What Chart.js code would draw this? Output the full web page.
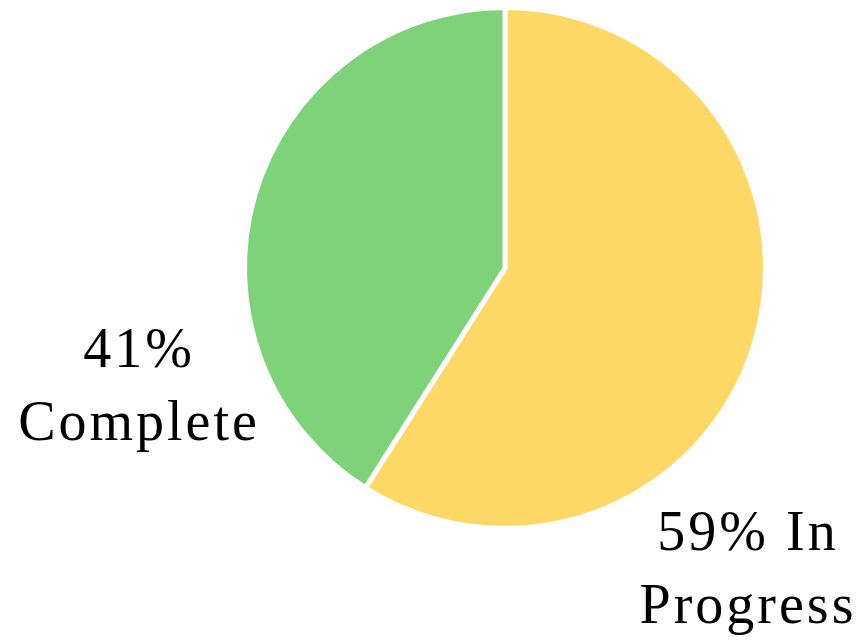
<!DOCTYPE html>
<html>
<head>
<meta charset="utf-8">
<script src="https://cdn.jsdelivr.net/npm/chart.js@4"></script>
<style>
html,body{margin:0;padding:0;background:#fff;}
#wrap{width:859px;height:643px;position:relative;}
</style>
</head>
<body>
<div id="wrap"><canvas id="c" width="859" height="643"></canvas></div>
<script>
const categories = ["In Progress", "Complete"];
const values = [59, 41];
const labelLines = [["59% In", "Progress"], ["41%", "Complete"]];
const colors = ["#FED866", "#7ED37A"];

const labelPos = [
  {x: 748, y: 550, gap: 73},
  {x: 139, y: 367, gap: 73}
];

const labelPlugin = {
  id: 'outLabels',
  afterDraw(chart) {
    const ctx = chart.ctx;
    ctx.save();
    ctx.fillStyle = '#000';
    ctx.font = '56px "Liberation Serif", "DejaVu Serif", serif';
    ctx.textAlign = 'center';
    ctx.textBaseline = 'alphabetic';
    try { ctx.letterSpacing = '3px'; } catch (e) {}
    labelLines.forEach((lines, i) => {
      lines.forEach((t, j) => {
        ctx.fillText(t, labelPos[i].x, labelPos[i].y + j * labelPos[i].gap);
      });
    });
    ctx.restore();
  }
};

new Chart(document.getElementById('c'), {
  type: 'pie',
  data: {
    labels: categories,
    datasets: [{
      data: values,
      backgroundColor: colors,
      borderColor: '#ffffff',
      borderWidth: 5,
      borderJoinStyle: 'miter'
    }]
  },
  options: {
    responsive: false,
    animation: false,
    layout: {padding: {top: 5, bottom: 112, left: 242, right: 91}},
    plugins: {legend: {display: false}, tooltip: {enabled: false}}
  },
  plugins: [labelPlugin]
});
</script>
</body>
</html>
